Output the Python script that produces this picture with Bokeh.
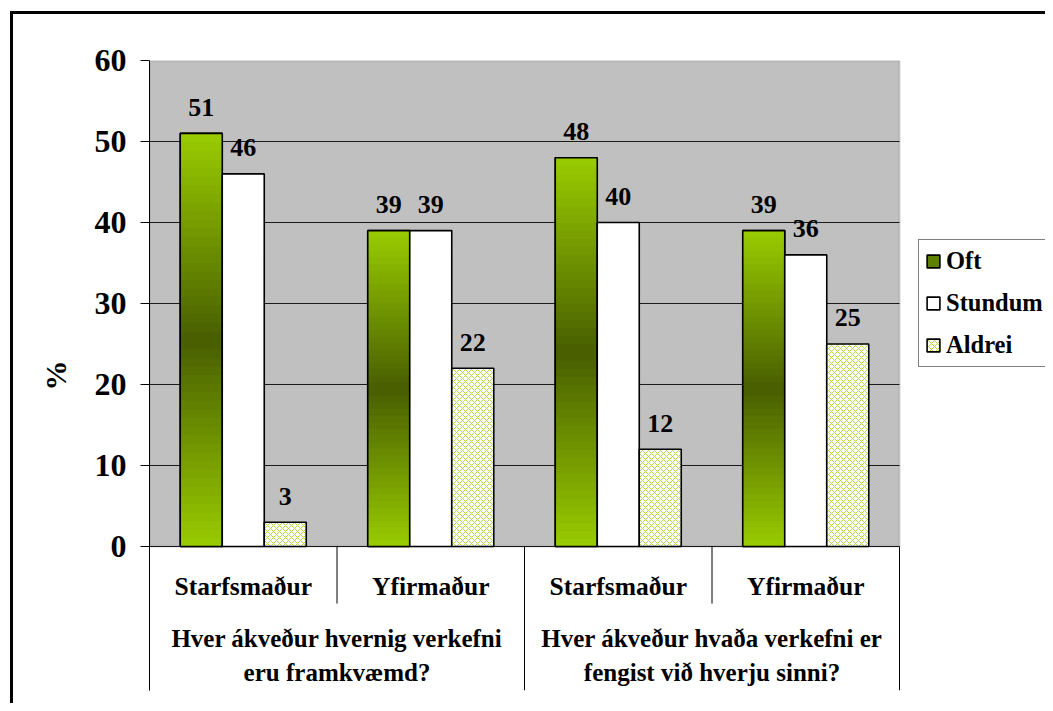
import numpy as np
from bokeh.plotting import figure
from bokeh.models import (ColumnDataSource, Range1d, FixedTicker, BoxAnnotation,
                          Legend, LegendItem)
from bokeh.embed import file_html
from bokeh.resources import INLINE
from bokeh.core.properties import value

# ---------------- data ----------------
groups = ["Hver ákveður hvernig verkefni\neru framkvæmd?",
          "Hver ákveður hvaða verkefni er\nfengist við hverju sinni?"]
subcats = ["Starfsmaður", "Yfirmaður", "Starfsmaður", "Yfirmaður"]
series = ["Oft", "Stundum", "Aldrei"]
oft = [51, 39, 48, 39]
stundum = [46, 39, 40, 36]
aldrei = [3, 22, 12, 25]
y_ticks = [0, 10, 20, 30, 40, 50, 60]

# ---------------- style ----------------
FONT = "Liberation Serif"
LIGHT = np.array([0x99, 0xCC, 0x00], dtype=float)
DARK = np.array([0x48, 0x5E, 0x00], dtype=float)
BW = 0.224          # bar width in category units
N_SLICES = 48
Y_MIN = -17.78
X_MAX = 896 / 187.5  # frame runs to the right edge (legend lives inside it)

n = len(subcats)
xc = np.arange(n) + 0.5
offsets = [-BW, 0.0, BW]

p = figure(width=1045, height=703, output_backend="svg", toolbar_location=None,
           x_range=Range1d(0, X_MAX), y_range=Range1d(Y_MIN, 60),
           x_axis_location=None, min_border_left=149, min_border_right=0,
           min_border_top=60, min_border_bottom=13)
p.outline_line_color = None
p.background_fill_color = None
p.border_fill_color = None
# outer black frame of the picture (left and top edges visible)
p.styles = {
    "background": ("linear-gradient(#000,#000) 10px 11px / 3px 100% no-repeat, "
                   "linear-gradient(#000,#000) 10px 11px / 100% 3px no-repeat, #fff"),
}

# plot area background
p.add_layout(BoxAnnotation(left=0, right=4, bottom=0, top=60, fill_color="#C0C0C0",
                           fill_alpha=1, line_color="#808080", line_width=2,
                           level="image"))

# y axis
yax = p.yaxis[0]
yax.ticker = FixedTicker(ticks=y_ticks)
yax.minor_tick_line_color = None
yax.major_tick_in = 0
yax.major_tick_out = 9
yax.major_tick_line_color = "black"
yax.axis_line_color = "black"
yax.major_label_standoff = 14
yax.major_label_text_font = FONT
yax.major_label_text_font_style = "bold"
yax.major_label_text_font_size = "32px"
yax.major_label_text_color = "black"
yax.axis_label = "%"
yax.axis_label_text_font = FONT
yax.axis_label_text_font_style = "bold"
yax.axis_label_text_font_size = "30px"
yax.axis_label_text_color = "black"
yax.axis_label_standoff = 20

p.xgrid.visible = False
p.ygrid.visible = False
# horizontal gridlines limited to the plot area
gy = [t for t in y_ticks if t < 60]
p.segment(x0=[0] * len(gy), x1=[4] * len(gy), y0=gy, y1=gy,
          line_color="#1a1a1a", line_width=1)

src = ColumnDataSource(dict(
    x_oft=xc + offsets[0], x_st=xc + offsets[1], x_al=xc + offsets[2],
    oft=oft, stundum=stundum, aldrei=aldrei))

# base Oft bars (solid colour, used for the legend swatch), gradient drawn on top
r_oft = p.vbar(x="x_oft", top="oft", width=BW, source=src, fill_color="#5F7F00",
               line_color="black", line_width=1.6)

# ---- Oft bars: vertical gradient (light - dark - light) ----
sx, sb, st, sc = [], [], [], []
for i in range(n):
    v = oft[i]
    for k in range(N_SLICES):
        t = (k + 0.5) / N_SLICES
        w = 1 - abs(2 * t - 1)
        c = LIGHT + (DARK - LIGHT) * w
        sx.append(xc[i] + offsets[0])
        sb.append(v * k / N_SLICES)
        st.append(v * (k + 1) / N_SLICES)
        sc.append("#%02x%02x%02x" % tuple(int(round(q)) for q in c))
slices = ColumnDataSource(dict(x=sx, bottom=sb, top=st, color=sc))
p.vbar(x="x", bottom="bottom", top="top", width=BW, source=slices,
       fill_color="color", line_color="color", line_width=1)

p.vbar(x="x_oft", top="oft", width=BW, source=src, fill_color=None,
       line_color="black", line_width=1.6)
r_st = p.vbar(x="x_st", top="stundum", width=BW, source=src, fill_color="white",
              line_color="black", line_width=1.6)
r_al = p.vbar(x="x_al", top="aldrei", width=BW, source=src, fill_color="white",
              hatch_pattern="diagonal_cross", hatch_color="#B0DA40", hatch_scale=6,
              hatch_weight=1, line_color="black", line_width=1.6)

# data labels
for xs, ys in (("x_oft", "oft"), ("x_st", "stundum"), ("x_al", "aldrei")):
    lab = ColumnDataSource(dict(x=src.data[xs], y=src.data[ys],
                                t=[str(v) for v in src.data[ys]]))
    p.text(x="x", y="y", text="t", source=lab, y_offset=-26,
           text_align="center", text_baseline="alphabetic",
           text_font=value(FONT), text_font_style="bold",
           text_font_size="26px", text_color="black")

# category labels below the plot area
p.text(x=list(xc), y=[-4.95] * n, text=subcats, text_align="center",
       text_baseline="alphabetic", text_font=value(FONT), text_font_style="bold",
       text_font_size="25.5px", text_color="black")
g_x = [1.0, 3.0]
p.text(x=g_x, y=[-11.4] * 2, text=[g.split("\n")[0] for g in groups],
       text_align="center", text_baseline="alphabetic", text_font=value(FONT),
       text_font_style="bold", text_font_size="25px", text_color="black")
p.text(x=g_x, y=[-15.6] * 2, text=[g.split("\n")[1] for g in groups],
       text_align="center", text_baseline="alphabetic", text_font=value(FONT),
       text_font_style="bold", text_font_size="25px", text_color="black")

# separators of the category axis
p.segment(x0=[1, 3], x1=[1, 3], y0=[0, 0], y1=[-7.05, -7.05],
          line_color="black", line_width=1)
p.segment(x0=[2, 4], x1=[2, 4], y0=[0, 0], y1=[Y_MIN, Y_MIN],
          line_color="black", line_width=1)

legend = Legend(items=[LegendItem(label=series[0], renderers=[r_oft]),
                       LegendItem(label=series[1], renderers=[r_st]),
                       LegendItem(label=series[2], renderers=[r_al])],
                location=(769, 323))
legend.border_line_color = "black"
legend.border_line_width = 1
legend.background_fill_color = "white"
legend.background_fill_alpha = 1
legend.label_text_font = FONT
legend.label_text_font_style = "bold"
legend.label_text_font_size = "24.5px"
legend.label_text_color = "black"
legend.glyph_width = 16
legend.glyph_height = 16
legend.label_height = 30
legend.label_standoff = 5
legend.spacing = 12
legend.padding = 6
legend.margin = 0
p.add_layout(legend)

open("out.html", "w").write(file_html(p, INLINE))
